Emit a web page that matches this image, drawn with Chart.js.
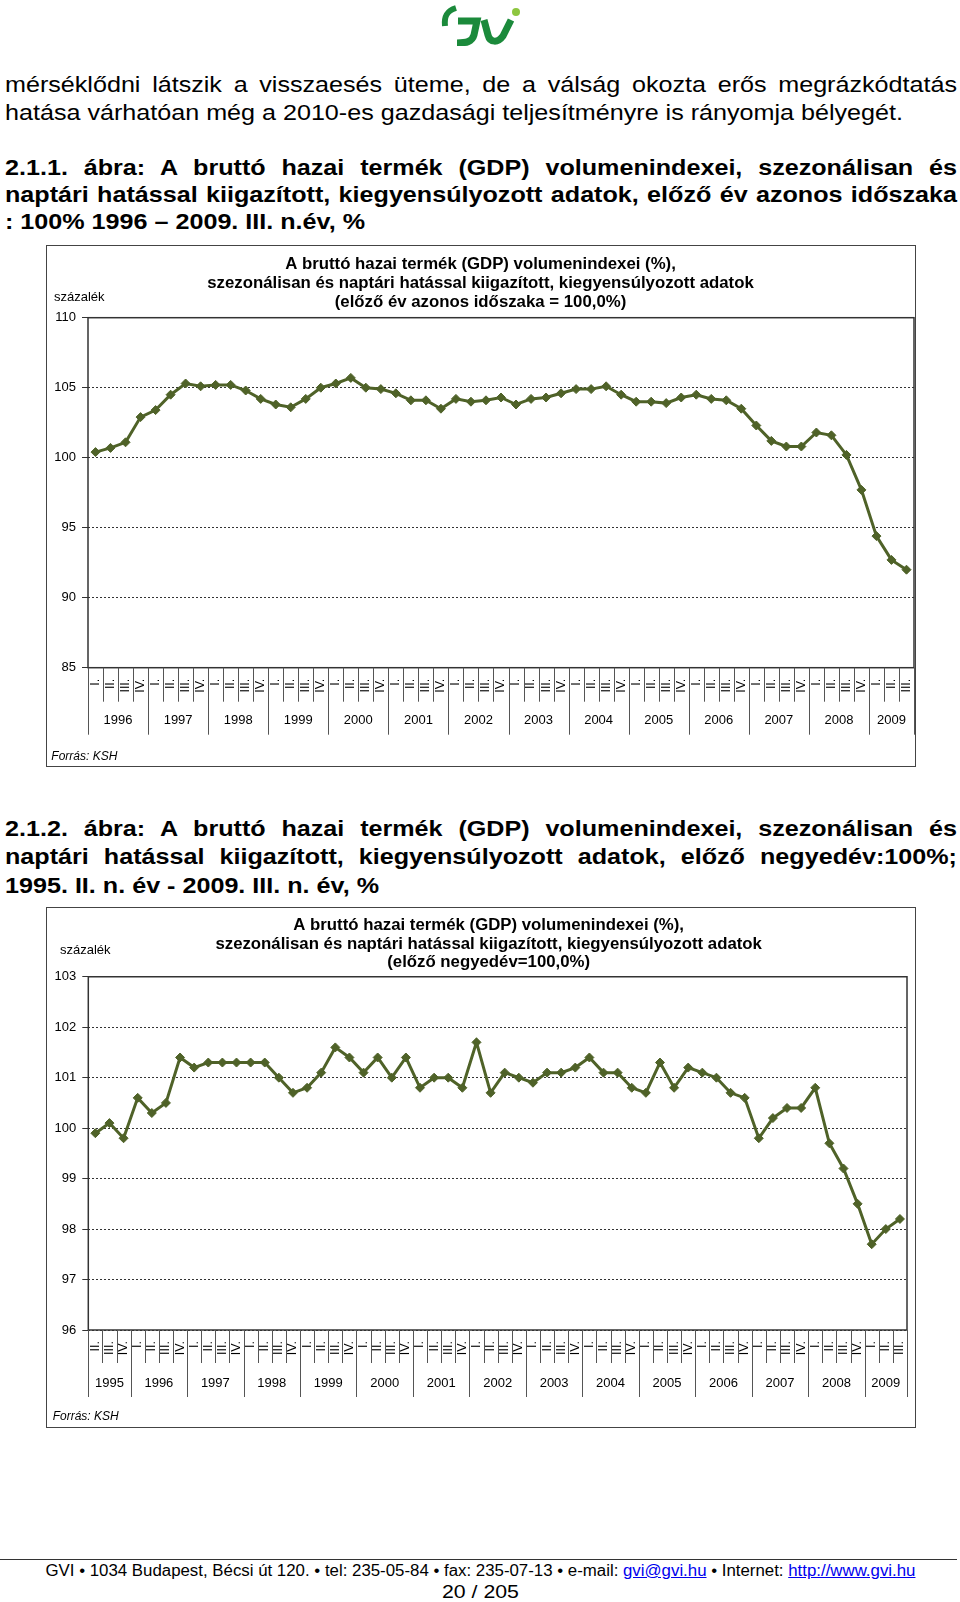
<!DOCTYPE html>
<html><head><meta charset="utf-8">
<script src="https://cdn.jsdelivr.net/npm/chart.js@4.4.0/dist/chart.umd.min.js"></script>
<style>
body{margin:0;width:960px;height:1602px;position:relative;background:#fff;overflow:hidden;font-family:"Liberation Sans",Arial,sans-serif;color:#000}
.ln{position:absolute;left:5px;white-space:nowrap;transform-origin:0 0;line-height:1}
.body{font-size:21.5px}
.hd{font-size:22.5px;font-weight:bold}
.box{position:absolute;left:46px;width:870px;border:1px solid #444;box-sizing:border-box;background:#fff}
canvas{display:block}
#rule{position:absolute;left:0;top:1559px;width:957px;height:0;border-top:1.5px solid #333}
.foot{position:absolute;left:0;width:960px;text-align:center;line-height:1;white-space:nowrap}
.foot span.in{display:inline-block;transform-origin:50% 0}
.foot a{color:#0000ee;text-decoration:underline}
</style></head>
<body>
<svg style="position:absolute;left:436px;top:2px" width="90" height="44" viewBox="0 0 90 44">
  <path d="M9 24 C8 15 10 9 20 6" stroke="#1b8a3b" stroke-width="6" fill="none" stroke-linecap="butt"/>
  <path d="M22 19 L41 19 L38 33 C36 40 30 41 21 41" stroke="#1b8a3b" stroke-width="7" fill="none"/>
  <path d="M48 18 L52 33 C54 41 62 41 67 34 L75 18" stroke="#1b8a3b" stroke-width="7" fill="none"/>
  <circle cx="80" cy="10" r="4" fill="#8dc63f"/>
</svg>

<div class="ln body" id="b1" style="top:75px">mérséklődni látszik a visszaesés üteme, de a válság okozta erős megrázkódtatás</div>
<div class="ln body" id="b2" style="top:102.8px">hatása várhatóan még a 2010-es gazdasági teljesítményre is rányomja bélyegét.</div>

<div class="ln hd" id="h1" style="top:157px">2.1.1. ábra: A bruttó hazai termék (GDP) volumenindexei, szezonálisan és</div>
<div class="ln hd" id="h2" style="top:184px">naptári hatással kiigazított, kiegyensúlyozott adatok, előző év azonos időszaka</div>
<div class="ln hd" id="h3" style="top:211px">: 100% 1996 – 2009. III. n.év, %</div>

<div class="box" style="top:245px;height:522px"><canvas id="c1" width="868" height="520"></canvas></div>

<div class="ln hd" id="g1" style="top:817.8px">2.1.2. ábra: A bruttó hazai termék (GDP) volumenindexei, szezonálisan és</div>
<div class="ln hd" id="g2" style="top:846px">naptári hatással kiigazított, kiegyensúlyozott adatok, előző negyedév:100%;</div>
<div class="ln hd" id="g3" style="top:874.5px">1995. II. n. év - 2009. III. n. év, %</div>

<div class="box" style="top:907px;height:521px"><canvas id="c2" width="868" height="519"></canvas></div>

<div id="rule"></div>
<div class="foot" style="top:1563px;font-size:16px"><span class="in" id="f1">GVI • 1034 Budapest, Bécsi út 120. • tel: 235-05-84 • fax: 235-07-13 • e-mail: <a>gvi@gvi.hu</a> • Internet: <a>http://www.gvi.hu</a></span></div>
<div class="foot" style="top:1582.5px;font-size:18.5px"><span class="in" id="f2">20 / 205</span></div>

<script>
// ---------- data ----------
const quarterLabels1 = ['I.','II.','III.','IV.','I.','II.','III.','IV.','I.','II.','III.','IV.','I.','II.','III.','IV.',
  'I.','II.','III.','IV.','I.','II.','III.','IV.','I.','II.','III.','IV.','I.','II.','III.','IV.',
  'I.','II.','III.','IV.','I.','II.','III.','IV.','I.','II.','III.','IV.','I.','II.','III.','IV.',
  'I.','II.','III.','IV.','I.','II.','III.'];
const yearLabels1 = ['1996','1997','1998','1999','2000','2001','2002','2003','2004','2005','2006','2007','2008','2009'];
const gdpYoY = [100.4,100.7,101.1,102.9,103.4,104.5,105.3,105.1,105.2,105.2,104.8,104.2,103.8,103.6,104.2,105.0,
  105.3,105.7,105.0,104.9,104.6,104.1,104.1,103.5,104.2,104.0,104.1,104.3,103.8,104.2,104.3,104.6,
  104.9,104.9,105.1,104.5,104.0,104.0,103.9,104.3,104.5,104.2,104.1,103.5,102.3,101.2,
  100.8,100.8,101.8,101.6,100.2,97.7,94.4,92.7,92.0];

const quarterLabels2 = ['II.','III.','IV.','I.','II.','III.','IV.','I.','II.','III.','IV.','I.','II.','III.','IV.',
  'I.','II.','III.','IV.','I.','II.','III.','IV.','I.','II.','III.','IV.','I.','II.','III.','IV.',
  'I.','II.','III.','IV.','I.','II.','III.','IV.','I.','II.','III.','IV.','I.','II.','III.','IV.',
  'I.','II.','III.','IV.','I.','II.','III.','IV.','I.','II.','III.'];
const yearLabels2 = ['1995','1996','1997','1998','1999','2000','2001','2002','2003','2004','2005','2006','2007','2008','2009'];
const gdpQoQ = [99.9,100.1,99.8,100.6,100.3,100.5,101.4,101.2,101.3,101.3,101.3,101.3,101.3,101.0,100.7,100.8,
  101.1,101.6,101.4,101.1,101.4,101.0,101.4,100.8,101.0,101.0,100.8,101.7,100.7,101.1,101.0,100.9,
  101.1,101.1,101.2,101.4,101.1,101.1,100.8,100.7,101.3,100.8,101.2,101.1,101.0,100.7,100.6,99.8,
  100.2,100.4,100.4,100.8,99.7,99.2,98.5,97.7,98.0,98.2];

const title1 = ['A bruttó hazai termék (GDP) volumenindexei (%),',
  'szezonálisan és naptári hatással kiigazított, kiegyensúlyozott adatok',
  '(előző év azonos időszaka = 100,0%)'];
const title2 = ['A bruttó hazai termék (GDP) volumenindexei (%),',
  'szezonálisan és naptári hatással kiigazított, kiegyensúlyozott adatok',
  '(előző negyedév=100,0%)'];

// ---------- text fitting ----------
function natW(el){const r=document.createRange();r.selectNodeContents(el);return r.getBoundingClientRect().width;}
function fitGroup(ids, lastW, fullW){
  const last=document.getElementById(ids[ids.length-1]);
  const sx=lastW/natW(last);
  ids.forEach((id,i)=>{
    const el=document.getElementById(id);
    if(i<ids.length-1){el.style.whiteSpace='normal';el.style.width=(fullW/sx)+'px';el.style.textAlign='justify';el.style.textAlignLast='justify';}
    el.style.transform='scaleX('+sx+')';
  });
}
fitGroup(['b1','b2'],898,952);
fitGroup(['h1','h2','h3'],360,952);
fitGroup(['g1','g2','g3'],374,952);
['f1','f2'].forEach((id,i)=>{const el=document.getElementById(id);const w=[870,77][i];el.style.transform='scaleX('+(w/natW(el))+')';});

// ---------- charts ----------
const FONT='"Liberation Sans", Arial, sans-serif';
Chart.defaults.font.family=FONT;
Chart.defaults.color='#000';

function decor(cfg){
  return {
    id:'decor',
    beforeDatasetsDraw(chart){
      const {ctx,chartArea:ca}=chart;
      ctx.save();ctx.strokeStyle='#333';ctx.lineWidth=1.5;
      ctx.strokeRect(ca.left,ca.top,ca.right-ca.left,ca.bottom-ca.top);
      ctx.restore();
    },
    afterDraw(chart){
      const {ctx,chartArea:ca,scales:{x}}=chart;
      const labels=chart.data.labels;const n=labels.length;
      const cw=x.getPixelForValue(1)-x.getPixelForValue(0);
      const bx=i=>i<n?x.getPixelForValue(i)-cw/2:x.getPixelForValue(n-1)+cw/2;
      const starts=[];labels.forEach((l,i)=>{if(i===0||l==='I.')starts.push(i);});
      ctx.save();
      ctx.strokeStyle='#555';ctx.lineWidth=1;
      for(let i=0;i<=n;i++){
        const long=i===n||starts.includes(i);
        const xx=Math.round(bx(i))+0.5;
        ctx.beginPath();ctx.moveTo(xx,ca.bottom);ctx.lineTo(xx,ca.bottom+(long?cfg.longLen:cfg.shortLen));ctx.stroke();
      }
      ctx.fillStyle='#000';ctx.font='13px '+FONT;ctx.textAlign='center';ctx.textBaseline='middle';
      starts.forEach((s,k)=>{const e=k+1<starts.length?starts[k+1]:n;ctx.fillText(cfg.years[k],(bx(s)+bx(e))/2,ca.bottom+cfg.yearDy);});
      ctx.textAlign='left';
      ctx.font='13px '+FONT;ctx.fillText('százalék',cfg.unitX,cfg.unitY);
      ctx.font='italic 12px '+FONT;ctx.fillText('Forrás: KSH',cfg.srcX,cfg.srcY);
      ctx.restore();
    }
  };
}

function makeChart(id,labels,values,c){
  return new Chart(document.getElementById(id),{
    type:'line',
    data:{labels:labels,datasets:[{data:values,borderColor:'#4F6228',backgroundColor:'#4F6228',borderWidth:3,
      pointStyle:'rectRot',pointRadius:4.5,pointBackgroundColor:'#4F6228',pointBorderColor:'#4F6228',pointBorderWidth:1,tension:0}]},
    options:{
      responsive:false,animation:false,
      layout:{autoPadding:false,padding:{left:0,right:c.padR,top:0,bottom:0}},
      plugins:{
        legend:{display:false},tooltip:{enabled:false},
        title:{display:true,text:c.title,color:'#000',font:{size:16.8,weight:'bold',lineHeight:c.titleLH},padding:{top:c.titlePT,bottom:c.titlePB}}
      },
      scales:{
        x:{type:'category',offset:true,
          grid:{display:false,drawTicks:false},border:{display:false},
          ticks:{autoSkip:false,minRotation:90,maxRotation:90,padding:11,font:{size:12.5},color:'#000'},
          afterFit:s=>{s.height=c.xH;s.paddingLeft=0;s.paddingRight=0;}},
        y:{min:c.min,max:c.max,
          ticks:{stepSize:c.step,padding:6,font:{size:13},color:'#000'},
          grid:{color:'#333',lineWidth:1,tickLength:6,tickColor:'#333',drawTicks:true},
          border:{display:false,dash:[2,2]},
          afterFit:s=>{s.width=c.yW;s.paddingTop=0;s.paddingBottom=0;}}
      }
    },
    plugins:[decor(c)]
  });
}

// leading spaces shift the centred title of the second chart slightly right, as in the original
const pad2 = '\u0020\u0020\u0020\u0020\u0020';
makeChart('c1',quarterLabels1,gdpYoY,{title:title1,titleLH:19.2/16.8,titlePT:8.4,titlePB:5.7,padR:1,yW:41,xH:98.3,
  min:85,max:110,step:5,years:yearLabels1,shortLen:34,longLen:67,yearDy:53,unitX:7,unitY:51,srcX:4.3,srcY:511});
makeChart('c2',quarterLabels2,gdpQoQ,{title:title2.map(t=>pad2+t),titleLH:18.85/16.8,titlePT:7.6,titlePB:4.6,padR:8,yW:41.3,xH:97,
  min:96,max:103,step:1,years:yearLabels2,shortLen:33,longLen:67,yearDy:53,unitX:13,unitY:42,srcX:5.7,srcY:509});
</script>
</body></html>
